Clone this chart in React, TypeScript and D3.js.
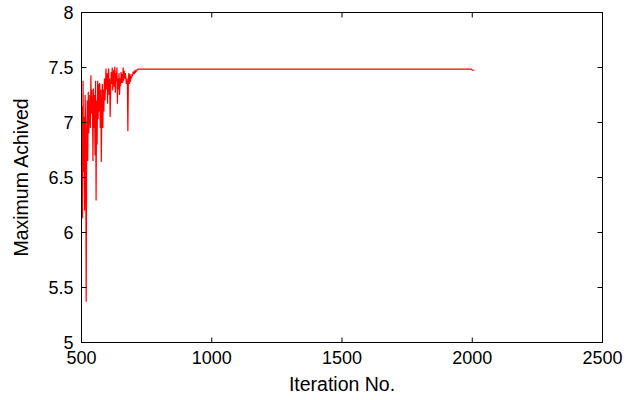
import React from "react";
import * as d3 from "d3";

const iterations = [
  500, 502, 504, 506, 508, 510, 512, 514, 516, 518, 520, 522, 524, 526, 528, 530,
  532, 534, 536, 538, 540, 542, 544, 546, 548, 550, 552, 554, 556, 558, 560, 562,
  564, 566, 568, 570, 572, 574, 576, 578, 580, 582, 584, 586, 588, 590, 592, 594,
  596, 598, 600, 602, 604, 606, 608, 610, 612, 614, 616, 618, 620, 622, 624, 626,
  628, 630, 632, 634, 636, 638, 640, 642, 644, 646, 648, 650, 652, 654, 656, 658,
  660, 662, 664, 666, 668, 670, 672, 674, 676, 678, 680, 682, 684, 686, 688, 690,
  692, 694, 696, 698, 700, 702, 704, 706, 708, 710, 712, 714, 716, 718, 720, 1996,
  2000, 2008,
];

const maxAchieved = [
  6.6, 7.15, 6.13, 7.38, 6.55, 7.05, 6.2, 7.25, 6.9, 5.37, 6.85, 7.2, 6.65, 7.28, 6.9, 7.1,
  7.25, 6.95, 7.43, 7.08, 7.3, 7.15, 6.65, 7.31, 6.95, 7.25, 6.7, 7.38, 6.29, 7.2, 6.8, 7.38,
  7.03, 7.35, 7.1, 7.36, 6.95, 7.3, 6.64, 7.1, 7.35, 6.95, 7.3, 7.1, 7.4, 7.2, 7.33, 7.49,
  7.3, 7.45, 7.17, 7.4, 7.49, 7.25, 7.4, 7.05, 7.3, 7.46, 7.35, 7.5, 7.29, 7.42, 7.48, 7.32,
  7.51, 7.27, 7.45, 7.38, 7.5, 7.17, 7.4, 7.3, 7.45, 7.25, 7.4, 7.33, 7.46, 7.36, 7.44, 7.36,
  7.5, 7.38, 7.47, 7.4, 7.45, 7.42, 7.35, 7.4, 7.36, 6.92, 7.4, 7.45, 7.35, 7.44, 7.37, 7.42,
  7.4, 7.44, 7.42, 7.46, 7.44, 7.46, 7.45, 7.47, 7.46, 7.47, 7.47, 7.48, 7.48, 7.485, 7.485, 7.485,
  7.475, 7.475,
];

const xTicks = [500, 1000, 1500, 2000, 2500];
const yTicks = [5, 5.5, 6, 6.5, 7, 7.5, 8];
const xLabel = "Iteration No.";
const yLabel = "Maximum Achived";

export default function App() {
  const W = 626;
  const H = 400;
  const left = 81.5;
  const right = 602.5;
  const top = 12.5;
  const bottom = 342.5;
  const x = d3.scaleLinear().domain([500, 2500]).range([left, right]);
  const y = d3.scaleLinear().domain([5, 8]).range([bottom, top]);
  const data = iterations.map((it, i) => [it, maxAchieved[i]] as [number, number]);
  const line = d3
    .line<[number, number]>()
    .x((d) => x(d[0]))
    .y((d) => y(d[1]));
  const tl = 5;
  const font = "'Liberation Sans', Arial, sans-serif";
  const fs = 18;
  const lfs = 19.5;

  return (
    <svg
      width={W}
      height={H}
      style={{ position: "absolute", left: 0, top: 0, background: "#fff" }}
      fontFamily={font}
    >
      <rect x={0} y={0} width={W} height={H} fill="#fff" />
      <path d={line(data) || ""} fill="none" stroke="#ff0000" strokeWidth={1.2} />
      <rect x={left} y={top} width={right - left} height={bottom - top} fill="none" stroke="#000" strokeWidth={1} />
      {xTicks.map((t) => (
        <g key={"x" + t}>
          <line x1={x(t)} x2={x(t)} y1={bottom} y2={bottom - tl} stroke="#000" />
          <line x1={x(t)} x2={x(t)} y1={top} y2={top + tl} stroke="#000" />
          <text x={x(t)} y={bottom + 21.5} textAnchor="middle" fontSize={fs} fill="#000">
            {String(t)}
          </text>
        </g>
      ))}
      {yTicks.map((t) => (
        <g key={"y" + t}>
          <line x1={left} x2={left + tl} y1={y(t)} y2={y(t)} stroke="#000" />
          <line x1={right} x2={right - tl} y1={y(t)} y2={y(t)} stroke="#000" />
          <text x={left - 8} y={y(t) + 6.5} textAnchor="end" fontSize={fs} fill="#000">
            {String(t)}
          </text>
        </g>
      ))}
      <text x={(left + right) / 2} y={391} textAnchor="middle" fontSize={lfs} fill="#000">
        {xLabel}
      </text>
      <text
        transform={`translate(27.5, ${(top + bottom) / 2}) rotate(-90)`}
        textAnchor="middle"
        fontSize={lfs}
        fill="#000"
      >
        {yLabel}
      </text>
    </svg>
  );
}
